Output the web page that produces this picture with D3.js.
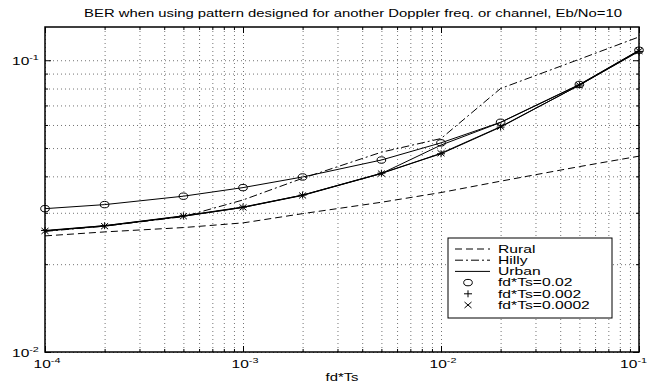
<!DOCTYPE html>
<html>
<head>
<meta charset="utf-8">
<script src="https://cdn.jsdelivr.net/npm/d3@7"></script>
<style>
  html, body { margin: 0; padding: 0; background: #fff; }
  svg { display: block; }
  text { font-family: "Liberation Sans", Arial, Helvetica, sans-serif; fill: #000; }
</style>
</head>
<body>
<script>
// Normalised Doppler frequency of the actual channel
const fdTs = [1e-4, 2e-4, 5e-4, 1e-3, 2e-3, 5e-3, 1e-2, 2e-2, 5e-2, 1e-1];

// BER with the pattern matched to each channel type
const rural = [0.0250, 0.0258, 0.0267, 0.0277, 0.0298, 0.0326, 0.0352, 0.0385, 0.0432, 0.0469];
const hilly = [0.0259, 0.0270, 0.0291, 0.0332, 0.0394, 0.0484, 0.0539, 0.0800, 0.1008, 0.1202];
const urban = [0.0260, 0.0271, 0.0292, 0.0313, 0.0345, 0.0409, 0.0512, 0.0612, 0.0824, 0.1080];

// BER in the urban channel with a pattern designed for a fixed fd*Ts
const pat002   = [0.0310, 0.0320, 0.0342, 0.0366, 0.0398, 0.0455, 0.0521, 0.0613, 0.0826, 0.1082];
const pat0002  = [0.0261, 0.0271, 0.0293, 0.0314, 0.0345, 0.0410, 0.0478, 0.0590, 0.0822, 0.1072];
const pat00002 = [0.0260, 0.0270, 0.0292, 0.0313, 0.0344, 0.0409, 0.0480, 0.0592, 0.0821, 0.1076];

// Axis ticks
const xMajor = [1e-4, 1e-3, 1e-2, 1e-1];
const xExp = ["-4", "-3", "-2", "-1"];
const yMajor = [1e-2, 1e-1];
const yExp = ["-2", "-1"];

const legendLabels = ["Rural", "Hilly", "Urban", "fd*Ts=0.02", "fd*Ts=0.002", "fd*Ts=0.0002"];
const titleText = "BER when using pattern designed for another Doppler freq. or channel, Eb/No=10";
const xLabelText = "fd*Ts";

const W = 648, H = 385;
const L = 45, R = 639, T = 27, B = 352;
const SX = 1.35; // horizontal glyph stretch

const svg = d3.select("body").append("svg").attr("width", W).attr("height", H);
svg.append("rect").attr("width", W).attr("height", H).attr("fill", "#fff");

const x = d3.scaleLog().domain([1e-4, 1e-1]).range([L, R]);
const y = d3.scaleLog().domain([0.01, 0.13]).range([B, T]);

function minors(lo, hi) {
  const out = [];
  for (let e = Math.floor(Math.log10(lo)); e <= Math.ceil(Math.log10(hi)); e++) {
    for (let m = 1; m <= 9; m++) {
      const v = m * Math.pow(10, e);
      if (v >= lo * 0.9999 && v <= hi * 1.0001) out.push(v);
    }
  }
  return out;
}
const xAll = minors(1e-4, 1e-1);
const yAll = minors(0.01, 0.13);

// Dotted grid
const grid = svg.append("g").attr("class", "grid");
grid.append("g").attr("transform", `translate(0,${B})`)
  .call(d3.axisBottom(x).tickValues(xAll).tickSize(-(B - T)).tickFormat(""));
grid.append("g").attr("transform", `translate(${L},0)`)
  .call(d3.axisLeft(y).tickValues(yAll).tickSize(-(R - L)).tickFormat(""));
grid.selectAll(".domain").remove();
grid.selectAll("line").attr("stroke", "#000").attr("stroke-opacity", 0.55)
  .attr("stroke-width", 1).attr("stroke-dasharray", "1,3");

// Tick marks on all four sides, pointing inwards
function ticks(axisFn, scale, vals, size, tx, ty) {
  const g = svg.append("g").attr("transform", `translate(${tx},${ty})`)
    .call(axisFn(scale).tickValues(vals).tickSize(size).tickFormat(""));
  g.select(".domain").remove();
  g.selectAll("line").attr("stroke", "#000").attr("stroke-width", 1);
}
const xMinor = xAll.filter(v => !xMajor.includes(v));
const yMinor = yAll.filter(v => !yMajor.includes(v));
ticks(d3.axisBottom, x, xMajor, -6, 0, B);
ticks(d3.axisBottom, x, xMinor, -3, 0, B);
ticks(d3.axisTop, x, xMajor, -6, 0, T);
ticks(d3.axisTop, x, xMinor, -3, 0, T);
ticks(d3.axisLeft, y, yMajor, -6, L, 0);
ticks(d3.axisLeft, y, yMinor, -3, L, 0);
ticks(d3.axisRight, y, yMajor, -6, R, 0);
ticks(d3.axisRight, y, yMinor, -3, R, 0);

// Curves
const lineGen = vals => d3.line().x((d, i) => x(fdTs[i])).y(d => y(d))(vals);
const plot = svg.append("g");
function curve(vals, dash) {
  plot.append("path").attr("d", lineGen(vals)).attr("fill", "none")
    .attr("stroke", "#000").attr("stroke-width", 1)
    .attr("stroke-dasharray", dash || null);
}
curve(rural, "7,4");
curve(hilly, "8,3,2,3");
curve(urban);
curve(pat002);
curve(pat0002);
curve(pat00002);

function circleMark(g, cx, cy) {
  g.append("ellipse").attr("cx", cx).attr("cy", cy).attr("rx", 4.3).attr("ry", 3.2)
    .attr("fill", "none").attr("stroke", "#000").attr("stroke-width", 1);
}
function plusMark(g, cx, cy) {
  g.append("path").attr("d", `M${cx - 4},${cy}H${cx + 4}M${cx},${cy - 3.5}V${cy + 3.5}`)
    .attr("stroke", "#000").attr("stroke-width", 1);
}
function crossMark(g, cx, cy) {
  g.append("path").attr("d", `M${cx - 3.5},${cy - 3}L${cx + 3.5},${cy + 3}M${cx - 3.5},${cy + 3}L${cx + 3.5},${cy - 3}`)
    .attr("stroke", "#000").attr("stroke-width", 1);
}
pat002.forEach((v, i) => circleMark(plot, x(fdTs[i]), y(v)));
pat0002.forEach((v, i) => plusMark(plot, x(fdTs[i]), y(v)));
pat00002.forEach((v, i) => crossMark(plot, x(fdTs[i]), y(v)));

// Axes box
svg.append("rect").attr("x", L).attr("y", T).attr("width", R - L).attr("height", B - T)
  .attr("fill", "none").attr("stroke", "#000").attr("stroke-width", 1.5);

// Stretched text helper
function stext(px, py, anchor, size, sx) {
  return svg.append("text").attr("transform", `translate(${px},${py}) scale(${sx || SX},1)`)
    .attr("text-anchor", anchor).attr("font-size", size);
}
function powLabel(px, py, anchor, exp) {
  const t = stext(px, py, anchor, 11.5);
  t.append("tspan").text("10");
  t.append("tspan").attr("dy", -5).attr("font-size", 8).text(exp);
}
xMajor.forEach((v, i) => {
  const last = i === xMajor.length - 1;
  powLabel(last ? W - 1 : x(v) + 2, 368, last ? "end" : "middle", xExp[i]);
});
yMajor.forEach((v, i) => powLabel(12, y(v) + 4.5, "start", yExp[i]));

stext(353, 17, "middle", 11).text(titleText);
stext(342, 381, "middle", 11).text(xLabelText);

// Legend
const lg = svg.append("g");
const LX = 448, LY = 238, LW = 164, LH = 80;
lg.append("rect").attr("x", LX).attr("y", LY).attr("width", LW).attr("height", LH)
  .attr("fill", "#fff").attr("stroke", "#000").attr("stroke-width", 1);
const rowY = d3.scaleLinear().domain([0, 5]).range([LY + 11, LY + 67]);
const dashes = ["7,4", "8,3,2,3", null];
dashes.forEach((d, i) => {
  lg.append("line").attr("x1", 455).attr("x2", 490).attr("y1", rowY(i)).attr("y2", rowY(i))
    .attr("stroke", "#000").attr("stroke-width", 1).attr("stroke-dasharray", d);
});
circleMark(lg, 468, rowY(3));
plusMark(lg, 468, rowY(4));
crossMark(lg, 468, rowY(5));
legendLabels.forEach((s, i) => {
  stext(498, rowY(i) + 3.8, "start", 10.3, 1.52).text(s);
});
</script>
</body>
</html>
